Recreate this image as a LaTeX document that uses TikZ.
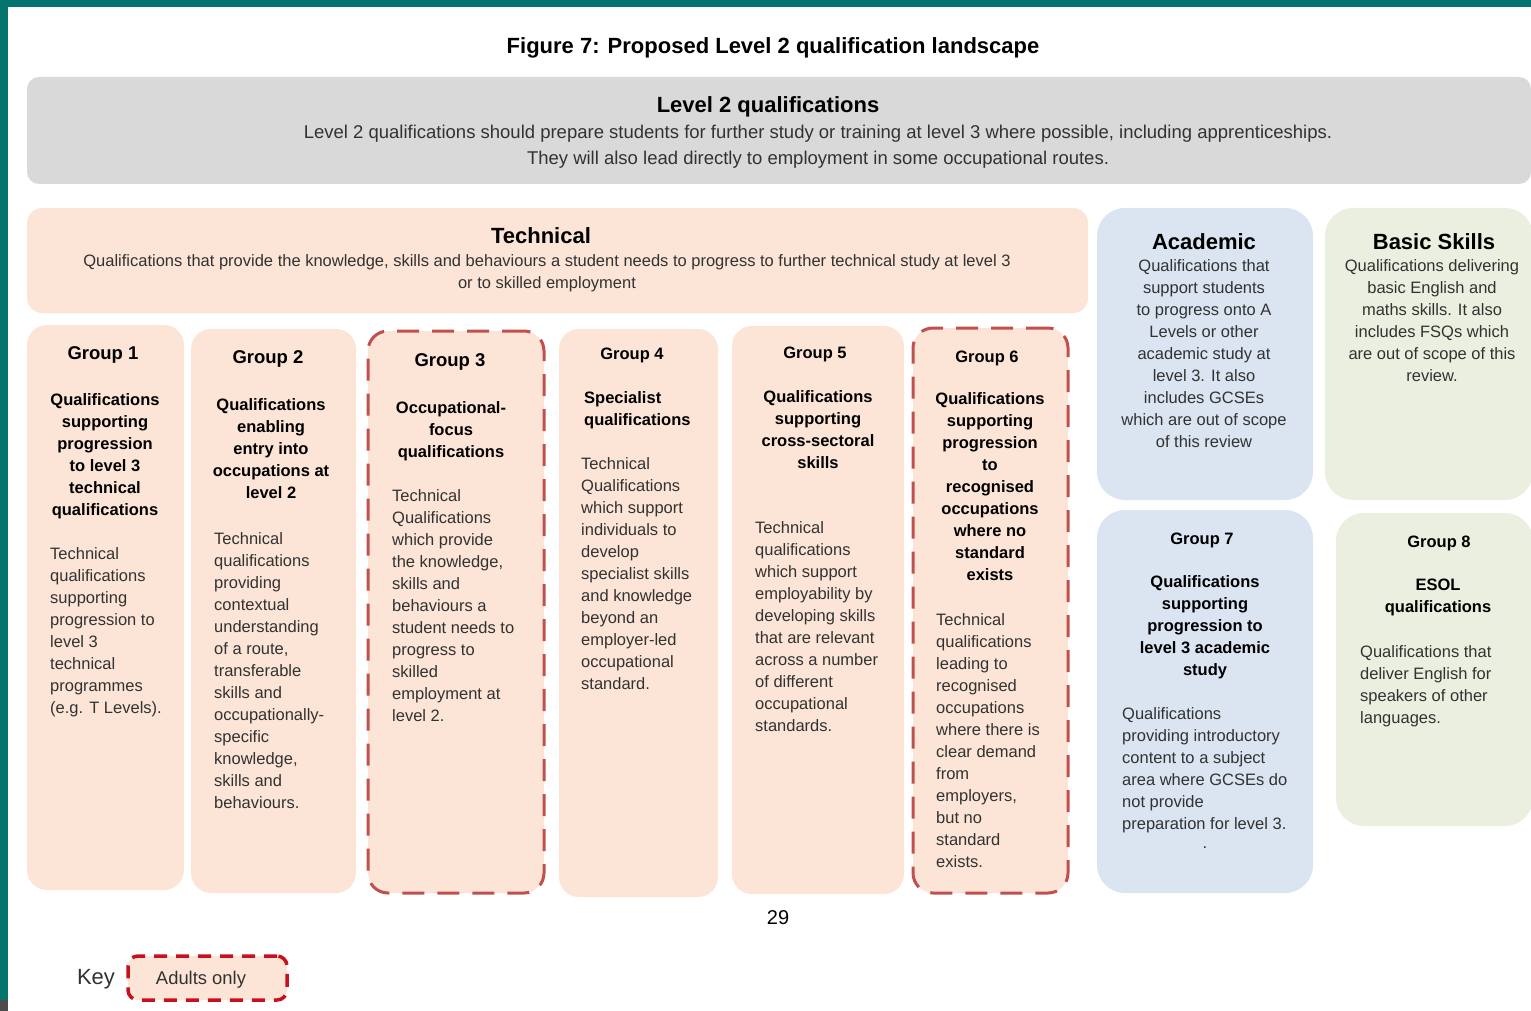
\documentclass[tikz,border=0pt]{standalone}
\usepackage{fontspec}
\setmainfont{Liberation Sans}
\usepackage{xcolor}
\definecolor{frameteal}{RGB}{5,115,110}
\definecolor{greybg}{RGB}{217,217,217}
\definecolor{peach}{RGB}{252,229,214}
\definecolor{paleblue}{RGB}{219,228,241}
\definecolor{palegreen}{RGB}{235,239,223}
\definecolor{dashred}{RGB}{192,80,77}
\definecolor{keyred}{RGB}{200,16,30}
\definecolor{bodygrey}{RGB}{50,50,50}

\tikzset{
  panel/.style={inner sep=0pt, rounded corners=#1},
  techpanel/.style={panel=20pt, fill=peach},
  adultpanel/.style={techpanel, draw=dashred, line width=3pt, dash pattern=on 22pt off 13pt},
  acadpanel/.style={panel=28pt, fill=paleblue},
  basicpanel/.style={panel=28pt, fill=palegreen},
  heading/.style={inner sep=0pt, font=\fontsize{22}{26}\selectfont\bfseries},
  grouptitle/.style={inner sep=0pt, font=\fontsize{#1}{22}\selectfont\bfseries},
  groupname/.style={inner sep=0pt, anchor=north, align=center, font=\fontsize{16.5}{22}\selectfont\bfseries},
  groupnameleft/.style={groupname, anchor=north west, align=left},
  bodytext/.style={inner sep=0pt, anchor=north west, align=left, text=bodygrey, font=\fontsize{16.5}{22}\selectfont},
  bodycentre/.style={bodytext, anchor=north, align=center},
}

\begin{document}
\begin{tikzpicture}[x=1pt, y=-1pt]
  \useasboundingbox (0,0) rectangle (1531,1011);
  \fill[frameteal] (0,0) rectangle (1531,7);
  \fill[frameteal] (0,0) rectangle (8,1000);
  \fill[black!70] (0,1000) rectangle (8,1011);

  \node[heading] (title) at (773,47.5) {Figure 7: Proposed Level 2 qualification landscape};

  \node[panel=12pt, fill=greybg, minimum width=1504pt, minimum height=107pt] (levelbox) at (779,130.5) {};
  \node[heading] (levelhead) at (768,106.5) {Level 2 qualifications};
  \node[bodycentre, font=\fontsize{18.5}{26}\selectfont] (leveltext) at (818,125)
    {Level 2 qualifications should prepare students for further study or training at level 3 where possible, including apprenticeships.\\
     They will also lead directly to employment in some occupational routes.};

  \node[panel=15pt, fill=peach, minimum width=1061pt, minimum height=105pt] (techbox) at (557.5,260.5) {};
  \node[heading] (techhead) at (541,236) {Technical};
  \node[bodycentre] (techtext) at (547,254)
    {Qualifications that provide the knowledge, skills and behaviours a student needs to progress to further technical study at level 3\\
     or to skilled employment};

  % group 1
  \node[techpanel, minimum width=157pt, minimum height=565pt] (grpone) at (105.5,607.5) {};
  \node[grouptitle=18.5] (grponetitle) at (103,354.5) {Group 1};
  \node[groupname] (grponename) at (105,393)
    {Qualifications\\ supporting\\ progression\\ to level 3\\ technical\\ qualifications};
  \node[bodytext] (grponetext) at (50,547)
    {Technical\\ qualifications\\ supporting\\ progression to\\ level 3\\ technical\\ programmes\\ (e.g. T Levels).};

  % group 2
  \node[techpanel, minimum width=165pt, minimum height=564pt] (grptwo) at (273.5,611) {};
  \node[grouptitle=18.5] (grptwotitle) at (268,358.5) {Group 2};
  \node[groupname] (grptwoname) at (271,398)
    {Qualifications\\ enabling\\ entry into\\ occupations at\\ level 2};
  \node[bodytext] (grptwotext) at (214,532)
    {Technical\\ qualifications\\ providing\\ contextual\\ understanding\\ of a route,\\ transferable\\ skills and\\ occupationally-\\ specific\\ knowledge,\\ skills and\\ behaviours.};

  % group 3
  \node[adultpanel, minimum width=176pt, minimum height=562pt] (grpthree) at (456,612) {};
  \node[grouptitle=18.5] (grpthreetitle) at (450,361.5) {Group 3};
  \node[groupname] (grpthreename) at (451,401)
    {Occupational-\\ focus\\ qualifications};
  \node[bodytext] (grpthreetext) at (392,489)
    {Technical\\ Qualifications\\ which provide\\ the knowledge,\\ skills and\\ behaviours a\\ student needs to\\ progress to\\ skilled\\ employment at\\ level 2.};

  % group 4
  \node[techpanel, minimum width=159pt, minimum height=568pt] (grpfour) at (638.5,613) {};
  \node[grouptitle=16.5] (grpfourtitle) at (632,355) {Group 4};
  \node[groupnameleft] (grpfourname) at (584,391)
    {Specialist\\ qualifications};
  \node[bodytext] (grpfourtext) at (581,457)
    {Technical\\ Qualifications\\ which support\\ individuals to\\ develop\\ specialist skills\\ and knowledge\\ beyond an\\ employer-led\\ occupational\\ standard.};

  % group 5
  \node[techpanel, minimum width=172pt, minimum height=568pt] (grpfive) at (818,610) {};
  \node[grouptitle=16.5] (grpfivetitle) at (815,354) {Group 5};
  \node[groupname] (grpfivename) at (818,390)
    {Qualifications\\ supporting\\ cross-sectoral\\ skills};
  \node[bodytext] (grpfivetext) at (755,521)
    {Technical\\ qualifications\\ which support\\ employability by\\ developing skills\\ that are relevant\\ across a number\\ of different\\ occupational\\ standards.};

  % group 6
  \node[adultpanel, minimum width=155pt, minimum height=565pt] (grpsix) at (990.5,610.5) {};
  \node[grouptitle=16.5] (grpsixtitle) at (987,358) {Group 6};
  \node[groupname] (grpsixname) at (990,392)
    {Qualifications\\ supporting\\ progression\\ to\\ recognised\\ occupations\\ where no\\ standard\\ exists};
  \node[bodytext] (grpsixtext) at (936,613)
    {Technical\\ qualifications\\ leading to\\ recognised\\ occupations\\ where there is\\ clear demand\\ from\\ employers,\\ but no\\ standard\\ exists.};

  % academic and basic skills
  \node[acadpanel, minimum width=216pt, minimum height=292pt] (acadbox) at (1205,354) {};
  \node[heading] (acadhead) at (1204,241.5) {Academic};
  \node[bodycentre] (acadtext) at (1204,259)
    {Qualifications that\\ support students\\ to progress onto A\\ Levels or other\\ academic study at\\ level 3. It also\\ includes GCSEs\\ which are out of scope\\ of this review};

  \node[basicpanel, minimum width=208pt, minimum height=292pt] (basicbox) at (1429,354) {};
  \node[heading] (basichead) at (1434,241.5) {Basic Skills};
  \node[bodycentre] (basictext) at (1432,259)
    {Qualifications delivering\\ basic English and\\ maths skills. It also\\ includes FSQs which\\ are out of scope of this\\ review.};

  % group 7
  \node[acadpanel, minimum width=216pt, minimum height=383pt] (grpseven) at (1205,701.5) {};
  \node[grouptitle=16.5] (grpseventitle) at (1202,540) {Group 7};
  \node[groupname] (grpsevenname) at (1205,575)
    {Qualifications\\ supporting\\ progression to\\ level 3 academic\\ study};
  \node[bodytext] (grpseventext) at (1122,707)
    {Qualifications\\ providing introductory\\ content to a subject\\ area where GCSEs do\\ not provide\\ preparation for level 3.};
  \node[bodytext, anchor=center] (grpsevendot) at (1205,848) {.};

  % group 8
  \node[basicpanel, minimum width=197pt, minimum height=313pt] (grpeight) at (1434.5,669.5) {};
  \node[grouptitle=16.5] (grpeighttitle) at (1439,543) {Group 8};
  \node[groupname] (grpeightname) at (1438,579)
    {ESOL\\ qualifications};
  \node[bodytext] (grpeighttext) at (1360,645)
    {Qualifications that\\ deliver English for\\ speakers of other\\ languages.};

  \node[inner sep=0pt, font=\fontsize{20}{24}\selectfont] (pagenum) at (778,918) {29};

  % key
  \node[inner sep=0pt, text=bodygrey, font=\fontsize{22}{26}\selectfont] (keylabel) at (96,979) {Key};
  \node[panel=10pt, fill=peach, draw=keyred, line width=3.5pt, dash pattern=on 13pt off 9pt,
        minimum width=159pt, minimum height=44pt] (keybox) at (207.5,978) {};
  \node[inner sep=0pt, text=bodygrey, font=\fontsize{18.4}{22}\selectfont] (keytext) at (201,980) {Adults only};
\end{tikzpicture}
\end{document}
